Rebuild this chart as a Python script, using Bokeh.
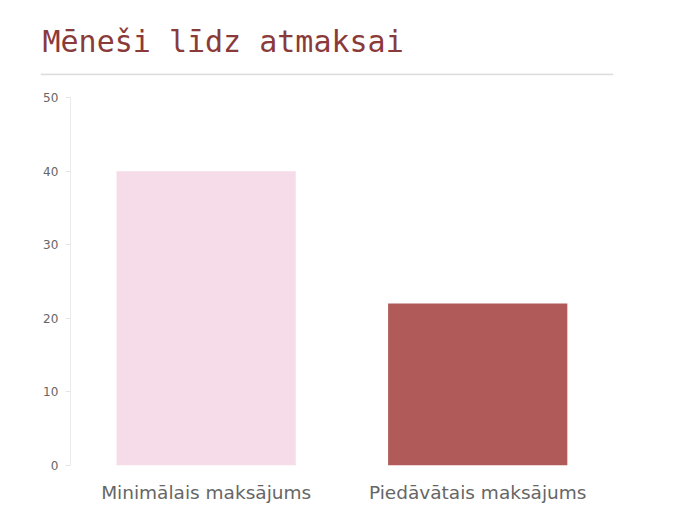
from bokeh.plotting import figure
from bokeh.models import Range1d, FixedTicker, Span
from bokeh.embed import file_html
from bokeh.resources import INLINE

categories = ["Minimālais maksājums", "Piedāvātais maksājums"]
values = [40, 22]
colors = ["#F5DCE8", "#B05A5A"]
title_text = "Mēneši līdz atmaksai"
y_ticks = [0, 10, 20, 30, 40, 50]

# category slots at 0.5, 1.5, ... (one unit per category)
x_pos = [i + 0.5 for i in range(len(categories))]

W, H = 650, 510
p = figure(width=W, height=H, x_range=Range1d(-0.11, len(categories)),
           y_range=Range1d(-1, 53.3), output_backend="svg", toolbar_location=None,
           title=title_text,
           min_border_left=40, min_border_right=37, min_border_top=73, min_border_bottom=38)
p.vbar(x=x_pos, top=values, width=0.66, color=colors, line_color=None)

p.outline_line_color = None
p.xgrid.visible = False
p.ygrid.visible = False

p.title.text_font = "DejaVu Sans Mono"
p.title.text_font_size = "30px"
p.title.text_font_style = "normal"
p.title.text_color = "#8B3A3A"
p.title.align = "left"
p.title.offset = 2
p.title.standoff = 30

p.xaxis.ticker = FixedTicker(ticks=x_pos)
p.xaxis.major_label_overrides = {x: c for x, c in zip(x_pos, categories)}
p.xaxis.axis_line_color = None
p.xaxis.major_tick_line_color = None
p.xaxis.minor_tick_line_color = None
p.xaxis.major_label_text_font = "DejaVu Sans"
p.xaxis.major_label_text_font_size = "18.5px"
p.xaxis.major_label_text_color = "#666666"
p.xaxis.major_label_standoff = 3

p.yaxis.fixed_location = 0
p.yaxis.bounds = (0, 50)
p.yaxis.ticker = FixedTicker(ticks=y_ticks)
p.yaxis.axis_line_color = "#EBEBEB"
p.yaxis.major_tick_line_color = "#E6E6E6"
p.yaxis.major_tick_out = 5
p.yaxis.major_tick_in = 0
p.yaxis.minor_tick_line_color = None
p.yaxis.major_label_text_font = "DejaVu Sans"
p.yaxis.major_label_text_font_size = "12px"
p.yaxis.major_label_text_color = "#666666"
p.yaxis.major_label_standoff = 7

# separator rule along the top of the frame
p.add_layout(Span(location=53.2, dimension="width", line_color="#DDDDDD", line_width=2))

open("out.html", "w").write(file_html(p, INLINE))
